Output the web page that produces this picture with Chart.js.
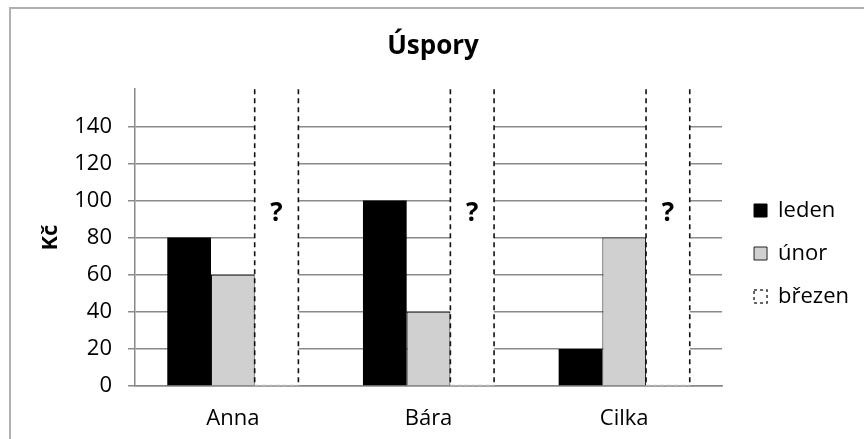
<!DOCTYPE html>
<html>
<head>
<meta charset="utf-8">
<script src="https://cdn.jsdelivr.net/npm/chart.js@4/dist/chart.umd.min.js"></script>
<style>
	body { margin: 0; background: #fff; }
	#wrap { position: relative; width: 864px; height: 439px; overflow: hidden; }
	#frame { position: absolute; left: 9px; top: 7px; width: 900px; height: 500px; border-left: 2px solid #b0b0b0; border-top: 2px solid #b0b0b0; }
	#myChart { position: absolute; left: 0; top: 0; }
</style>
</head>
<body>
<div id="wrap">
	<div id="frame"></div>
	<canvas id="myChart" width="864" height="439"></canvas>
</div>
<script>
const categories = ['Anna', 'Bára', 'Cilka'];
const seriesNames = ['leden', 'únor', 'březen'];
const leden = [80, 100, 20];
const unor = [60, 40, 80];
// březen is unknown: full-height placeholder bars marked with "?"
const brezen = [160, 160, 160];
const brezenLabels = ['?', '?', '?'];
const questionAt = 93;
const yMax = 160;
const yStep = 20;
const yTicks = [0, 20, 40, 60, 80, 100, 120, 140];

const FONT = '"Open Sans", "DejaVu Sans", sans-serif';

const dashedBars = {
	id: 'dashedBars',
	afterLayout(chart) {
		// nudge the legend to where the original had it
		const lg = chart.legend;
		lg.left += 11; lg.right += 11;
		lg.top += 34; lg.bottom += 34;
	},
	afterDatasetsDraw(chart) {
		const ctx = chart.ctx;
		const yScale = chart.scales.y;
		const meta = chart.getDatasetMeta(2);
		meta.data.forEach((bar, i) => {
			const p = bar.getProps(['x', 'y', 'base', 'width'], true);
			const l = p.x - p.width / 2, r = p.x + p.width / 2;
			ctx.save();
			ctx.strokeStyle = '#bbb';
			ctx.lineWidth = 1;
			ctx.setLineDash([4, 3]);
			ctx.beginPath(); ctx.moveTo(l, p.base); ctx.lineTo(r, p.base); ctx.stroke();
			ctx.strokeStyle = '#111';
			ctx.lineWidth = 1.6;
			ctx.setLineDash([5, 4]);
			for (let px of [l, r]) {
				ctx.beginPath(); ctx.moveTo(px, p.y); ctx.lineTo(px, p.base); ctx.stroke();
			}
			ctx.setLineDash([]);
			ctx.font = 'bold 26px ' + FONT;
			ctx.fillStyle = '#000';
			ctx.textAlign = 'center';
			ctx.textBaseline = 'middle';
			ctx.fillText(brezenLabels[i], p.x, yScale.getPixelForValue(questionAt));
			ctx.restore();
		});
	}
};

const legendStyles = [
	{ fillStyle: '#000', strokeStyle: '#000', lineWidth: 1, lineDash: [] },
	{ fillStyle: '#d0d0d0', strokeStyle: '#222', lineWidth: 1, lineDash: [] },
	{ fillStyle: '#fff', strokeStyle: '#333', lineWidth: 1.5, lineDash: [3, 3] }
];

const ctx = document.getElementById('myChart');

new Chart(ctx, {
	type: 'bar',
	data: {
		labels: categories,
		datasets: [
			{ label: seriesNames[0], data: leden, backgroundColor: '#000', borderWidth: 0 },
			{ label: seriesNames[1], data: unor, backgroundColor: '#d0d0d0', borderColor: '#111', borderWidth: 1 },
			{ label: seriesNames[2], data: brezen, backgroundColor: '#fff', borderWidth: 0 }
		]
	},
	options: {
		responsive: false,
		animation: false,
		devicePixelRatio: 1,
		layout: { padding: { left: 18, top: 0, right: 16, bottom: 0 } },
		datasets: { bar: { categoryPercentage: 0.67, barPercentage: 1 } },
		plugins: {
			title: {
				display: true,
				text: 'Úspory',
				color: '#000',
				font: { family: FONT, size: 26, weight: 'bold' },
				padding: { top: 31, bottom: 27 }
			},
			legend: {
				position: 'right',
				labels: {
					color: '#000',
					font: { family: FONT, size: 22 },
					boxWidth: 13,
					boxHeight: 13,
					padding: 21,
					generateLabels: chart => chart.data.datasets.map((ds, i) => ({
						text: ds.label,
						datasetIndex: i,
						hidden: false,
						...legendStyles[i]
					}))
				}
			},
			tooltip: { enabled: false }
		},
		scales: {
			x: {
				grid: { display: false, drawTicks: false },
				border: { display: true, color: '#888', width: 1.5 },
				ticks: { color: '#000', font: { family: FONT, size: 22 }, padding: 20 },
				afterFit: s => { s.height = 53; }
			},
			y: {
				min: 0,
				max: yMax,
				afterBuildTicks: s => { s.ticks = yTicks.concat([yMax]).map(v => ({ value: v })); },
				grid: {
					color: c => c.tick && c.tick.value === yMax ? 'rgba(0,0,0,0)' : '#8a8a8a',
					lineWidth: 1.5,
					tickLength: 7
				},
				border: { display: true, color: '#888', width: 1.5 },
				ticks: {
					stepSize: yStep,
					color: '#000',
					font: { family: FONT, size: 22 },
					padding: 16,
					callback: v => v === yMax ? '' : v
				},
				title: {
					display: true,
					text: 'Kč',
					color: '#000',
					font: { family: FONT, size: 22, weight: 'bold' },
					padding: { top: 20, bottom: 0 }
				},
				afterFit: s => { s.width = 117; }
			}
		}
	},
	plugins: [dashedBars]
});
</script>
</body>
</html>
